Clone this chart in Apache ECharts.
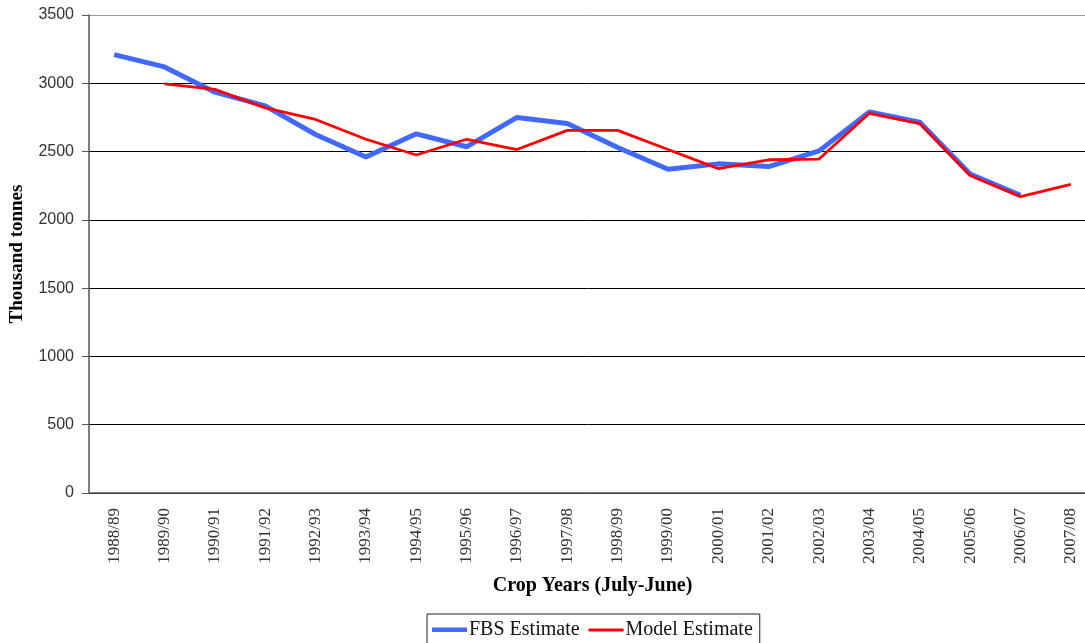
<!DOCTYPE html>
<html>
<head>
<meta charset="utf-8">
<script src="https://cdn.jsdelivr.net/npm/echarts@6/dist/echarts.min.js"></script>
<style>
  html, body { margin: 0; padding: 0; background: #fff; }
  #chart { width: 1085px; height: 643px; }
</style>
</head>
<body>
<div id="chart"></div>
<script>
// crop years on the x axis
const years = ['1988/89', '1989/90', '1990/91', '1991/92', '1992/93', '1993/94', '1994/95',
  '1995/96', '1996/97', '1997/98', '1998/99', '1999/00', '2000/01', '2001/02', '2002/03',
  '2003/04', '2004/05', '2005/06', '2006/07', '2007/08'];
// FBS estimate (no value for 2007/08)
const fbsEstimate = [3210, 3120, 2935, 2835, 2625, 2460, 2630, 2535, 2750, 2705,
  2530, 2370, 2410, 2390, 2505, 2790, 2715, 2335, 2180, null];
// model estimate (starts in 1989/90)
const modelEstimate = [null, 2995, 2955, 2820, 2735, 2590, 2475, 2590, 2515, 2655,
  2655, 2515, 2375, 2440, 2445, 2780, 2705, 2325, 2170, 2260];

const serif = 'Liberation Serif';
// legend icons: thin bars inside a 35x12 box (tiny corner marks keep the box size)
const box = 'M0,0 L0.01,0 L0,0.01 Z M35,12 L34.99,12 L35,11.99 Z ';
const blueIcon = 'path://' + box + 'M0,3.5 L35,3.5 L35,8 L0,8 Z';
const redIcon = 'path://' + box + 'M0,4.5 L35,4.5 L35,7.5 L0,7.5 Z';

const chart = echarts.init(document.getElementById('chart'));
chart.setOption({
  animation: false,
  grid: { left: 89, top: 15, width: 1007, height: 478, containLabel: false, outerBoundsMode: 'none' },
  legend: {
    left: 427, top: 614,
    padding: [6, 7, 8, 5],
    borderColor: '#222', borderWidth: 1,
    itemWidth: 35, itemHeight: 12, itemGap: 9,
    textStyle: { fontFamily: serif, fontSize: 20, color: '#111', padding: [0, 0, 0, -3] },
    data: [
      { name: 'FBS Estimate', icon: blueIcon, itemStyle: { color: '#4169ff' } },
      { name: 'Model Estimate', icon: redIcon, itemStyle: { color: '#ff0000' } }
    ]
  },
  xAxis: {
    type: 'category',
    data: years,
    boundaryGap: true,
    name: 'Crop Years (July-June)',
    nameLocation: 'middle',
    nameGap: 83,
    nameTextStyle: { fontFamily: serif, fontSize: 20, fontWeight: 'bold', color: '#000' },
    axisLine: { lineStyle: { color: '#555', width: 1.5 } },
    axisTick: { alignWithLabel: false, length: 5, lineStyle: { color: '#555' } },
    axisLabel: { rotate: 90, margin: 15, fontFamily: serif, fontSize: 17, color: '#333', interval: 0 }
  },
  yAxis: {
    type: 'value',
    min: 0, max: 3500, interval: 500,
    name: 'Thousand tonnes',
    nameLocation: 'middle',
    nameGap: 62,
    nameTextStyle: { fontFamily: serif, fontSize: 19, fontWeight: 'bold', color: '#000' },
    axisLine: { show: true, lineStyle: { color: '#555', width: 1.5 } },
    axisTick: { show: true, length: 7, lineStyle: { color: '#555' } },
    axisLabel: {
      margin: 15, fontFamily: 'Liberation Sans', fontSize: 16, color: '#333',
      formatter: v => String(v)
    },
    splitLine: { lineStyle: { color: ['#000', '#000', '#000', '#000', '#000', '#000', '#000', '#999'], width: 1 } }
  },
  series: [
    {
      name: 'FBS Estimate', type: 'line', data: fbsEstimate,
      symbol: 'none', connectNulls: false,
      lineStyle: { color: '#4169ff', width: 5 },
      itemStyle: { color: '#4169ff' }
    },
    {
      name: 'Model Estimate', type: 'line', data: modelEstimate,
      symbol: 'none', connectNulls: false,
      lineStyle: { color: '#ff0000', width: 2.8 },
      itemStyle: { color: '#ff0000' }
    }
  ]
});
</script>
</body>
</html>
